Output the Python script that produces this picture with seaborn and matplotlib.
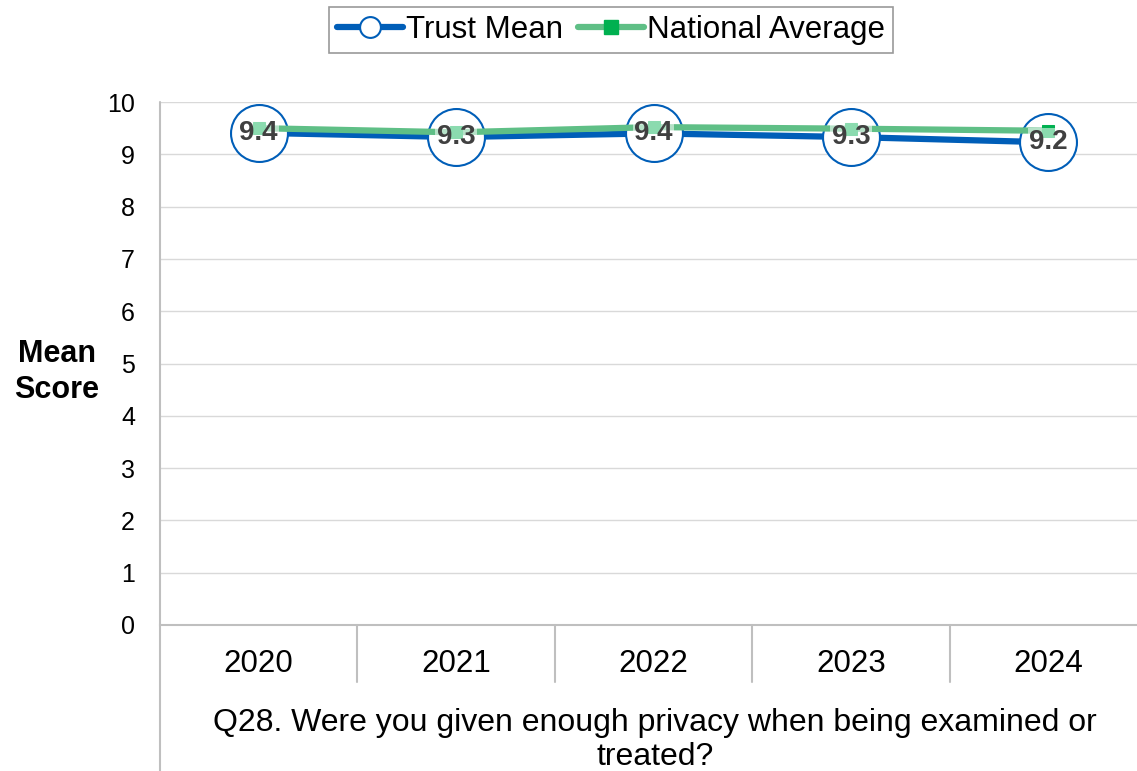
import matplotlib
matplotlib.use("Agg")
import matplotlib.pyplot as plt
import matplotlib.transforms as mtransforms
from matplotlib.lines import Line2D
import seaborn as sns
import pandas as pd

years = ["2020", "2021", "2022", "2023", "2024"]
trust_mean = [9.4, 9.3, 9.4, 9.3, 9.2]
trust_plot = [9.41, 9.33, 9.40, 9.33, 9.23]
national_avg = [9.50, 9.42, 9.52, 9.49, 9.45]
trust_labels = ["9.4", "9.3", "9.4", "9.3", "9.2"]
y_ticks = list(range(0, 11))
question = "Q28. Were you given enough privacy when being examined or\ntreated?"

BLUE = "#005EB8"
GREEN_LINE = "#5FBF86"
GREEN_MARK = "#00B050"
GRID = "#D9D9D9"
AXIS = "#BFBFBF"

sns.set_theme(style="white")
plt.rcParams["font.family"] = ["Liberation Sans", "DejaVu Sans"]
plt.rcParams["text.color"] = "black"
plt.rcParams["xtick.color"] = "black"
plt.rcParams["ytick.color"] = "black"

df = pd.DataFrame({"year": years, "trust": trust_plot, "national": national_avg})
df["pos"] = range(len(years))

fig = plt.figure(figsize=(11.37, 7.71), dpi=100)
W, H = 1137, 771
left, right, top, bottom = 160, 1147, 102, 625
ax = fig.add_axes([left / W, 1 - bottom / H, (right - left) / W, (bottom - top) / H])

for y in y_ticks:
    ax.axhline(y, color=GRID, lw=1.0, zorder=0)

sns.lineplot(data=df, x="pos", y="trust", ax=ax, color=BLUE, lw=4.5, zorder=2,
             legend=False, sort=False)
ax.scatter(df["pos"], df["trust"], s=41 ** 2, facecolor="white", edgecolor=BLUE,
           linewidth=1.5, zorder=3)
sns.lineplot(data=df, x="pos", y="national", ax=ax, color=GREEN_LINE, lw=4.5, zorder=4,
             legend=False, sort=False, marker="s", markersize=9,
             markerfacecolor=GREEN_MARK, markeredgecolor=GREEN_MARK)

for i, (v, lab) in enumerate(zip(trust_plot, trust_labels)):
    ax.text(i, v, lab, ha="center", va="center", fontsize=20, fontweight="bold",
            color="#404040", zorder=6,
            bbox=dict(boxstyle="square,pad=0.05", fc="white", ec="none", alpha=0.55))

ax.set_xlim(-0.5, len(years) - 0.5)
ax.set_ylim(0, 10)
ax.set_yticks(y_ticks)
ax.set_yticklabels([str(t) for t in y_ticks], fontsize=18)
ax.set_xticks(range(len(years)))
ax.set_xticklabels(years, fontsize=22.5)
ax.tick_params(axis="x", length=0, pad=17)
ax.tick_params(axis="y", length=0, pad=18)
ax.set_xlabel("")
ax.set_ylabel("")

for s in ["top", "right"]:
    ax.spines[s].set_visible(False)
ax.spines["bottom"].set_color(AXIS)
ax.spines["bottom"].set_linewidth(1.5)
ax.spines["left"].set_visible(False)

trans = mtransforms.blended_transform_factory(ax.transData, ax.transAxes)
for b in [0.5, 1.5, 2.5, 3.5]:
    ax.add_line(Line2D([b, b], [0, -57 / 523], transform=trans, color=AXIS, lw=1.5,
                       clip_on=False))
ax.add_line(Line2D([-0.5, -0.5], [1, -146 / 523], transform=trans, color=AXIS, lw=1.5,
                   clip_on=False))

fig.text(655 / W, 1 - 740 / H, question, ha="center", va="center", fontsize=23,
         linespacing=1.2)
fig.text(57 / W, 1 - 372 / H, "Mean\nScore", ha="center", va="center", fontsize=22,
         fontweight="bold", linespacing=1.3)

handles = [
    Line2D([], [], color=BLUE, lw=4.5, marker="o", markersize=15,
           markerfacecolor="white", markeredgecolor=BLUE, markeredgewidth=1.5),
    Line2D([], [], color=GREEN_LINE, lw=4.5, marker="s", markersize=10,
           markerfacecolor=GREEN_MARK, markeredgecolor=GREEN_MARK),
]
leg = fig.legend(handles, ["Trust Mean", "National Average"], loc="center",
                 bbox_to_anchor=(611 / W, 1 - 30 / H), ncol=2, fontsize=22.5,
                 frameon=True, fancybox=False, edgecolor="#808080", handlelength=2.1,
                 handletextpad=0.1, columnspacing=0.5, borderpad=0.25)
leg.get_frame().set_linewidth(1.2)

fig.savefig("out.png", dpi=100)
